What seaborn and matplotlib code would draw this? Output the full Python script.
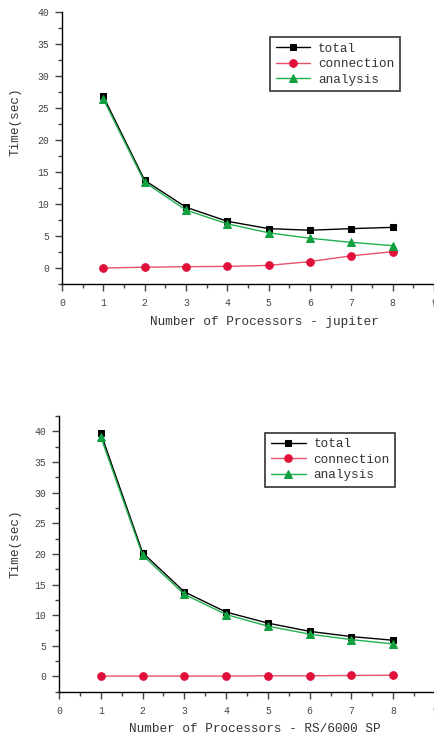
import numpy as np
import pandas as pd
import matplotlib as mpl
import matplotlib.pyplot as plt
import seaborn as sns
from matplotlib.ticker import MultipleLocator

processors = [1, 2, 3, 4, 5, 6, 7, 8]

# jupiter
jup_total = [26.8, 13.7, 9.5, 7.3, 6.15, 5.9, 6.15, 6.35]
jup_connection = [0.0, 0.12, 0.2, 0.25, 0.4, 1.0, 1.9, 2.55]
jup_analysis = [26.4, 13.4, 9.05, 6.9, 5.5, 4.65, 4.0, 3.5]

# RS/6000 SP
sp_total = [39.7, 20.2, 13.8, 10.5, 8.7, 7.35, 6.5, 5.9]
sp_connection = [0.05, 0.05, 0.05, 0.05, 0.1, 0.1, 0.15, 0.2]
sp_analysis = [39.1, 19.8, 13.4, 10.1, 8.2, 6.9, 6.0, 5.3]

series_names = ['total', 'connection', 'analysis']
colors = {'total': '#000000', 'connection': '#e0103a', 'analysis': '#10a040'}
line_colors = {'total': '#000000', 'connection': '#e8506a', 'analysis': '#20b050'}
markers = {'total': 's', 'connection': 'o', 'analysis': '^'}
msizes = {'total': 5, 'connection': 5.5, 'analysis': 6}

sns.set_style('ticks')
mpl.rcParams['font.family'] = ['Liberation Mono', 'DejaVu Sans Mono']
mpl.rcParams['xtick.color'] = '#444444'
mpl.rcParams['ytick.color'] = '#444444'
mpl.rcParams['axes.edgecolor'] = '#000000'
mpl.rcParams['axes.linewidth'] = 1.0


def draw_panel(ax, total, connection, analysis, xlabel, ymax, xlab_pos, ylab_pos, leg_pos):
    df = pd.DataFrame({'n': processors, 'total': total,
                       'connection': connection, 'analysis': analysis})
    for name in series_names:
        sns.lineplot(data=df, x='n', y=name, ax=ax, color=line_colors[name],
                     marker=markers[name], markersize=msizes[name],
                     markerfacecolor=colors[name], markeredgecolor=colors[name],
                     linewidth=1.0, label=name)
    ax.set_xlim(0, 9)
    ax.set_ylim(-2.5, ymax)
    ax.xaxis.set_major_locator(MultipleLocator(1))
    ax.xaxis.set_minor_locator(MultipleLocator(0.5))
    ax.yaxis.set_major_locator(MultipleLocator(5))
    ax.yaxis.set_minor_locator(MultipleLocator(2.5))
    ax.tick_params(which='major', direction='out', length=5, width=1,
                   labelsize=7, pad=4)
    ax.tick_params(which='minor', direction='out', length=3, width=1)
    ax.tick_params(axis='x', pad=5)
    sns.despine(ax=ax)
    ax.set_xlabel(xlabel, fontsize=9.2, color='#333333')
    ax.set_ylabel('Time(sec)', fontsize=9.2, color='#333333')
    ax.xaxis.set_label_coords(*xlab_pos)
    ax.yaxis.set_label_coords(*ylab_pos)
    leg = ax.legend(loc='upper left', bbox_to_anchor=leg_pos, borderaxespad=0,
                    fontsize=9.2, frameon=True, fancybox=False, framealpha=1,
                    edgecolor='#333333', handlelength=2.7, handletextpad=0.6,
                    labelspacing=0.28, borderpad=0.45)
    leg.get_frame().set_linewidth(1.2)
    for t in leg.get_texts():
        t.set_color('#333333')


fig = plt.figure(figsize=(4.35, 7.38), dpi=100)
ax1 = fig.add_axes([0.1425, 0.6152, 0.855, 0.3685])
ax2 = fig.add_axes([0.1356, 0.0627, 0.8644, 0.3736])

draw_panel(ax1, jup_total, jup_connection, jup_analysis,
           'Number of Processors - jupiter', 40,
           (0.544, -0.118), (-0.11, 0.596), (0.559, 0.909))
draw_panel(ax2, sp_total, sp_connection, sp_analysis,
           'Number of Processors - RS/6000 SP', 42.5,
           (0.521, -0.114), (-0.101, 0.538), (0.549, 0.94))

fig.savefig('out.png', dpi=100)
